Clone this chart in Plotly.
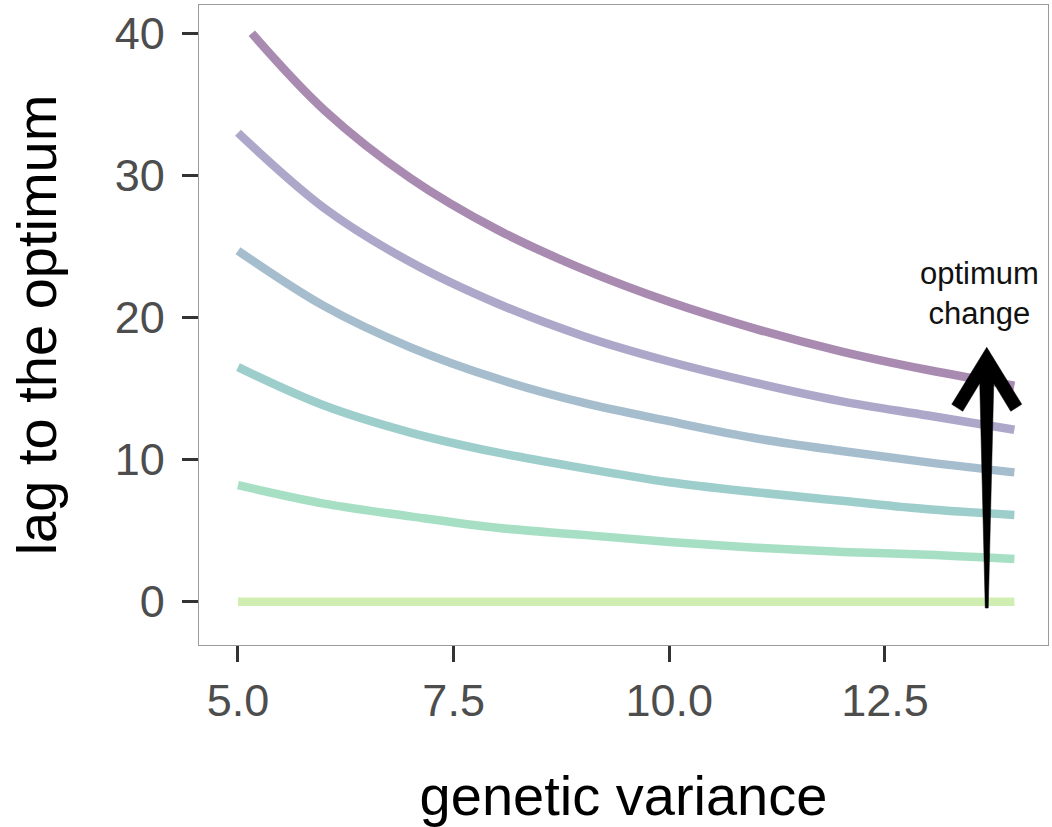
import plotly.graph_objects as go

# ---- data ----
genetic_variance = [5, 6, 7, 8, 9, 10, 11, 12, 13, 14]
lag_0 = [0, 0, 0, 0, 0, 0, 0, 0, 0, 0]
lag_1 = [8.2, 6.9, 6.0, 5.2, 4.7, 4.2, 3.8, 3.5, 3.3, 3.0]
lag_2 = [16.5, 13.8, 11.9, 10.5, 9.4, 8.4, 7.7, 7.1, 6.5, 6.1]
lag_3 = [24.7, 20.8, 17.9, 15.7, 14.0, 12.7, 11.5, 10.6, 9.8, 9.1]
lag_4 = [33.0, 27.7, 23.9, 21.0, 18.7, 16.9, 15.4, 14.1, 13.1, 12.1]
genetic_variance_top = [5.16, 6, 7, 8, 9, 10, 11, 12, 13, 14]
lag_5 = [40.0, 34.6, 29.8, 26.2, 23.4, 21.1, 19.2, 17.6, 16.3, 15.2]

series = [
    (genetic_variance, lag_0, "rgba(143,215,68,0.42)"),
    (genetic_variance, lag_1, "rgba(53,183,121,0.44)"),
    (genetic_variance, lag_2, "rgba(33,144,140,0.44)"),
    (genetic_variance, lag_3, "rgba(49,104,142,0.44)"),
    (genetic_variance, lag_4, "rgba(68,58,131,0.44)"),
    (genetic_variance_top, lag_5, "rgba(68,1,84,0.46)"),
]

x_ticks = [5.0, 7.5, 10.0, 12.5]
x_tick_labels = ["5.0", "7.5", "10.0", "12.5"]
y_ticks = [0, 10, 20, 30, 40]
y_tick_labels = ["0", "10", "20", "30", "40"]

arrow_x = 13.68
arrow_tip_y = 17.9
arrow_base_y = -0.45
arrow_label = "optimum<br>change"
arrow_label_x = 13.60
arrow_label_y = 21.7

# ---- layout geometry ----
W, H = 1052, 827
M_L, M_R, M_T, M_B = 199, 4, 5, 182
X_RANGE = [4.548, 14.39]
Y_RANGE = [-3.05, 41.99]
plot_w = W - M_L - M_R
plot_h = H - M_T - M_B
px_x = plot_w / (X_RANGE[1] - X_RANGE[0])
px_y = plot_h / (Y_RANGE[1] - Y_RANGE[0])

FONT = "Liberation Sans, Arial, sans-serif"

fig = go.Figure()
for xs, ys, col in series:
    fig.add_trace(go.Scatter(
        x=xs, y=ys, mode="lines",
        line=dict(color=col, width=8.5, shape="spline", smoothing=1.0),
        showlegend=False, hoverinfo="skip",
    ))

# ---- tapered arrow built from the arrow anchor values ----
def to_data(dx_px, dy_px):
    # offsets in pixels relative to the tip (dy positive = downward)
    return arrow_x + dx_px / px_x, arrow_tip_y - dy_px / px_y

base_dy = (arrow_tip_y - arrow_base_y) * px_y
pts_px = [
    (0, 0), (35, 57), (24, 64), (7, 36), (1.5, base_dy),
    (-1.5, base_dy), (-7, 36), (-24, 64), (-35, 57),
]
pts = [to_data(a, b) for a, b in pts_px]
path = "M " + " L ".join(f"{px_},{py_}" for px_, py_ in pts) + " Z"
fig.add_shape(type="path", path=path, xref="x", yref="y",
              fillcolor="black", line=dict(color="black", width=0.5), layer="above")

fig.add_annotation(x=arrow_label_x, y=arrow_label_y, text=arrow_label, showarrow=False,
                   font=dict(family=FONT, size=31, color="#111111"),
                   xanchor="center", yanchor="middle", align="center")

axis_common = dict(
    showgrid=False, zeroline=False, showline=True, mirror=True,
    linecolor="#9a9a9a", linewidth=1.2,
    ticks="outside", ticklen=16, tickwidth=3, tickcolor="#333333",
    tickfont=dict(family=FONT, size=45, color="#4d4d4d"),
)

fig.update_layout(
    width=W, height=H,
    margin=dict(l=M_L, r=M_R, t=M_T, b=M_B),
    paper_bgcolor="white", plot_bgcolor="white",
    xaxis=dict(range=X_RANGE, tickvals=x_ticks, ticktext=x_tick_labels,
               ticklabelstandoff=0,
               title=dict(text="genetic variance", font=dict(family=FONT, size=56, color="black"),
                          standoff=52),
               **axis_common),
    yaxis=dict(range=Y_RANGE, tickvals=y_ticks, ticktext=y_tick_labels,
               ticklabelstandoff=8,
               title=dict(text="lag to the optimum", font=dict(family=FONT, size=56, color="black"),
                          standoff=40),
               **axis_common),
)

fig.write_html("out.html")
